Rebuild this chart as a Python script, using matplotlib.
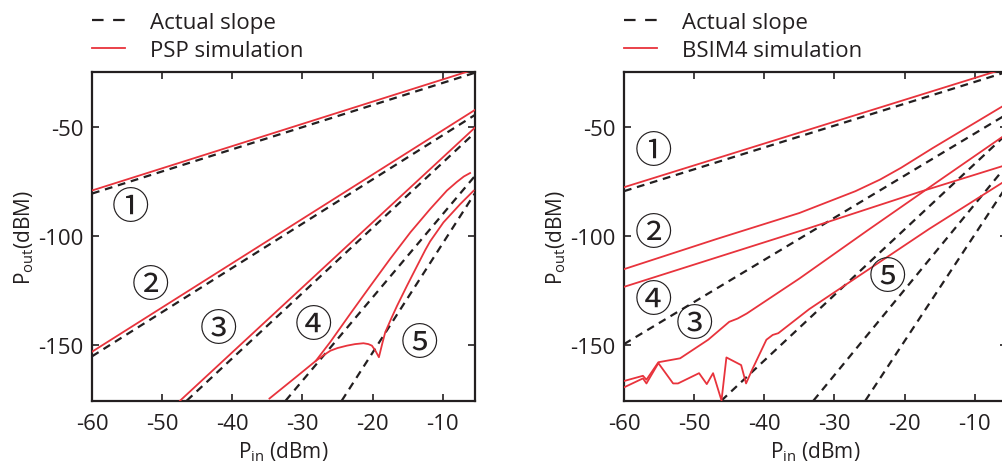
import numpy as np
import matplotlib
matplotlib.use("Agg")
import matplotlib.pyplot as plt
from matplotlib.lines import Line2D

plt.rcParams['font.family'] = ['Open Sans', 'DejaVu Sans']
plt.rcParams['axes.unicode_minus'] = False

red = '#e8333c'
dark = '#231f20'

# ---- left panel: PSP ----
# actual slope lines (Pin, Pout)
b1_pin_L = [-60, -5.4]
b1_out_L = [-80.6, -25.3]
b2_pin_L = [-60, -5.4]
b2_out_L = [-155.1, -44.6]
b3_pin_L = [-46.5, -5.4]
b3_out_L = [-175.4, -52.7]
b4_pin_L = [-32.4, -5.4]
b4_out_L = [-175.4, -72.5]
b5_pin_L = [-24.4, -5.4]
b5_out_L = [-175.4, -80.4]

# PSP simulation
r1_pin_L = [-60, -5.4]
r1_out_L = [-79.2, -23.7]
r2_pin_L = [-60, -5.4]
r2_out_L = [-153.0, -42.3]
r3_pin_L = [-47.45, -5.4]
r3_out_L = [-175.4, -50.4]
r4_pin_L = [-28.1, -26.0, -23.2, -20.3, -17.5, -14.6, -11.8, -9.4, -8.0, -7.0, -6.1]
r4_out_L = [-157.2, -148.4, -135.7, -122.8, -110.5, -98.3, -87.7, -79.2, -75.3, -72.8, -71.2]
r5_pin_L = [-34.7, -31.0, -28.1, -27.0, -26.0, -25.0, -23.65, -22.5, -21.3, -20.6, -20.1,
            -19.6, -19.1, -18.6, -18.2, -17.3, -16.5, -15.1, -13.7, -12.5, -11.8, -9.9, -7.5, -5.6]
r5_out_L = [-174.4, -164.8, -157.2, -154.6, -152.5, -151.3, -150.2, -149.5, -149.1, -149.5, -150.2,
            -152.5, -155.5, -149.0, -144.1, -137.5, -131.9, -122.8, -114.0, -106.5, -102.5, -93.8,
            -85.4, -79.3]

# ---- right panel: BSIM4 ----
b1_pin_R = [-60, -5.9]
b1_out_R = [-79.5, -25.4]
b2_pin_R = [-60, -5.9]
b2_out_R = [-149.5, -45.2]
b3_pin_R = [-46.13, -5.9]
b3_out_R = [-175.4, -54.7]
b4_pin_R = [-33.0, -5.9]
b4_out_R = [-175.4, -69.5]
b5_pin_R = [-25.6, -5.9]
b5_out_R = [-175.4, -79.4]

r1_pin_R = [-60, -5.9]
r1_out_R = [-77.7, -23.6]
r2_pin_R = [-60, -46.8, -35.0, -27.0, -23.5, -20.5, -16.0, -5.9]
r2_out_R = [-115.2, -101.4, -89.5, -79.5, -74.2, -68.8, -59.8, -40.4]
r4_pin_R = [-60, -34.0, -18.0, -5.9]
r4_out_R = [-123.3, -96.8, -80.0, -67.9]
r3_pin_R = [-59.9, -57.3, -56.8, -55.1, -52.0, -48.0, -45.0, -43.8, -42.5, -35.0, -25.3, -15.0, -5.9]
r3_out_R = [-166.3, -164.0, -165.8, -157.8, -156.0, -147.5, -139.3, -137.8, -135.5, -119.5, -97.5, -74.5, -54.3]
r5_pin_R = [-60.0, -57.3, -56.8, -55.1, -53.0, -52.3, -49.3, -48.2, -47.3, -46.1, -45.4, -43.3,
            -42.6, -41.7, -39.7, -38.8, -38.0, -33.6, -16.5, -5.9]
r5_out_R = [-169.3, -165.2, -167.5, -158.2, -167.5, -167.5, -162.8, -167.8, -162.8, -175.3, -155.6, -159.1,
            -167.5, -161.0, -147.5, -145.3, -144.5, -133.5, -96.8, -75.3]

# circled labels (Pin, Pout)
marks = ['①', '②', '③', '④', '⑤']
mark_pin_L = [-54.5, -51.7, -42.0, -28.4, -13.3]
mark_out_L = [-86.9, -122.8, -142.6, -141.1, -149.0]
mark_pin_R = [-55.8, -55.8, -50.0, -55.8, -22.4]
mark_out_R = [-61.4, -99.1, -140.3, -129.6, -119.2]

fig = plt.figure(figsize=(10.02, 4.77), dpi=100)
axL = fig.add_axes([92 / 1002, 1 - 401.7 / 477, 383 / 1002, 328.4 / 477])
axR = fig.add_axes([624 / 1002, 1 - 401.7 / 477, 383 / 1002, 328.4 / 477])

dash = (0, (3.5, 2.6))


def draw(ax, blines, rlines, mpin, mout, simname, xlim_right):
    for pin, pout in blines:
        ax.plot(pin, pout, color=dark, lw=1.6, linestyle=dash, zorder=2)
    for pin, pout in rlines:
        ax.plot(pin, pout, color=red, lw=1.3, zorder=3)
    for m, x, y in zip(marks, mpin, mout):
        ax.text(x, y, m, fontsize=27, family=['Noto Sans CJK JP'], color=dark,
                ha='center', va='center')
    ax.set_xlim(-60, xlim_right)
    ax.set_ylim(-175.4, -25.1)
    ax.set_xticks([-60, -50, -40, -30, -20, -10])
    ax.set_yticks([-150, -100, -50])
    ax.tick_params(direction='in', top=True, right=True, length=5, width=1.2,
                   labelsize=16, colors=dark)
    ax.tick_params(axis='x', pad=9)
    ax.tick_params(axis='y', pad=6)
    for s in ax.spines.values():
        s.set_linewidth(1.6)
        s.set_color(dark)
    ax.set_xlabel(r'P$_\mathregular{in}$ (dBm)', fontsize=15, color=dark, labelpad=4)
    ax.set_ylabel(r'P$_\mathregular{out}$(dBM)', fontsize=15, color=dark, labelpad=2)
    # legend keys: two dashes like the original
    hb = Line2D([], [], color=dark, lw=1.6, linestyle=(0, (5.2, 4.3)))
    hr = Line2D([], [], color=red, lw=1.3)
    ax.legend([hb, hr], ['Actual slope', simname], loc='lower left',
              bbox_to_anchor=(0.0, 1.035), frameon=False, fontsize=16,
              handlelength=1.5, handletextpad=1.1, labelspacing=0.3,
              borderpad=0, borderaxespad=0, labelcolor=dark)


draw(axL,
     [(b1_pin_L, b1_out_L), (b2_pin_L, b2_out_L), (b3_pin_L, b3_out_L),
      (b4_pin_L, b4_out_L), (b5_pin_L, b5_out_L)],
     [(r1_pin_L, r1_out_L), (r2_pin_L, r2_out_L), (r3_pin_L, r3_out_L),
      (r4_pin_L, r4_out_L), (r5_pin_L, r5_out_L)],
     mark_pin_L, mark_out_L, 'PSP simulation', -5.4)

draw(axR,
     [(b1_pin_R, b1_out_R), (b2_pin_R, b2_out_R), (b3_pin_R, b3_out_R),
      (b4_pin_R, b4_out_R), (b5_pin_R, b5_out_R)],
     [(r1_pin_R, r1_out_R), (r2_pin_R, r2_out_R), (r4_pin_R, r4_out_R),
      (r3_pin_R, r3_out_R), (r5_pin_R, r5_out_R)],
     mark_pin_R, mark_out_R, 'BSIM4 simulation', -5.4)

plt.savefig('out.png', dpi=100)
